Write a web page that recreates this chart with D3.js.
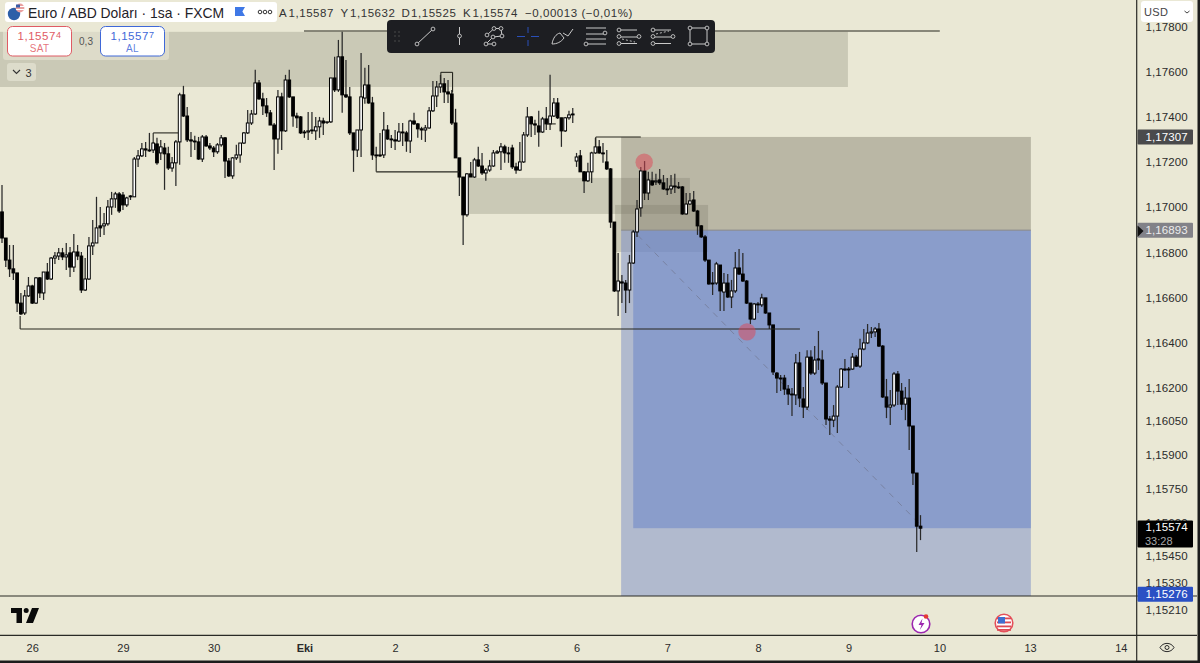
<!DOCTYPE html>
<html><head><meta charset="utf-8">
<style>html,body{margin:0;padding:0;background:#eae8d5;overflow:hidden}svg{display:block}</style>
<script src="https://cdn.jsdelivr.net/npm/d3@7"></script></head><body>
<svg id="c" width="1200" height="663"></svg>
<script>
const title="Euro / ABD Doları · 1sa · FXCM";
const ohlcLabels=[["A","1,15587"],["Y","1,15632"],["D","1,15525"],["K","1,15574"]];
const changeLabel="−0,00013 (−0,01%)";
const dayBars=[8,32,56,80,104,128,152,176,200,224,248,272,296];
const dayLabels=["26","29","30","Eki","2","3","6","7","8","9","10","13","14"];
const priceTicks=[1.178,1.176,1.174,1.172,1.170,1.168,1.166,1.164,1.162,1.1605,1.159,1.1575,1.156,1.1545,1.1533,1.1521];
const priceTickLabels=["1,17800","1,17600","1,17400","1,17200","1,17000","1,16800","1,16600","1,16400","1,16200","1,16050","1,15900","1,15750","1,15600","1,15450","1,15330","1,15210"];
const opens=[1.16974,1.16858,1.1676,1.16721,1.16703,1.16569,1.16525,1.16601,1.16645,1.16569,
1.16681,1.16614,1.16707,1.16676,1.16769,1.16778,1.16792,1.16774,1.16792,1.16729,
1.16796,1.16778,1.16627,1.16676,1.16823,1.16836,1.16912,1.16912,1.16921,1.16996,
1.17032,1.17054,1.17049,1.17005,1.17041,1.17041,1.17209,1.17223,1.17254,1.17249,
1.17249,1.17276,1.17236,1.17258,1.17232,1.17169,1.17192,1.17285,1.17494,1.174,
1.17294,1.17289,1.17285,1.17209,1.17307,1.17267,1.17258,1.17241,1.17272,1.17303,
1.172,1.17134,1.17214,1.17227,1.1728,1.17325,1.17369,1.17409,1.17547,1.17476,
1.17445,1.17414,1.1736,1.17298,1.17485,1.17334,1.1756,1.17485,1.174,1.17396,
1.17325,1.17329,1.17334,1.17334,1.17352,1.17378,1.17374,1.17374,1.17569,1.17516,
1.17663,1.17494,1.17485,1.17325,1.17249,1.17338,1.1748,1.17538,1.17458,1.17227,
1.17223,1.17227,1.17338,1.17298,1.17294,1.17289,1.17329,1.17325,1.17289,1.17378,
1.17365,1.17343,1.17338,1.17347,1.17423,1.17489,1.17529,1.17543,1.17507,1.17498,
1.17369,1.17214,1.17129,1.16961,1.17143,1.17129,1.17205,1.17178,1.17147,1.1716,
1.17178,1.17236,1.17241,1.17263,1.17236,1.17258,1.17174,1.1716,1.17196,1.17316,
1.17396,1.17365,1.17356,1.17329,1.17387,1.17365,1.174,1.17458,1.17392,1.17334,
1.17392,1.17405,1.172,1.17223,1.17152,1.17112,1.17152,1.17236,1.17263,1.17236,
1.17196,1.17165,1.16929,1.16623,1.16663,1.16658,1.16627,1.16747,1.16885,1.16992,
1.17156,1.17058,1.17112,1.17107,1.17116,1.17103,1.17076,1.17076,1.17089,1.17085,
1.17085,1.16965,1.17009,1.17027,1.16978,1.16912,1.16863,1.1676,1.16654,1.16658,
1.16738,1.16618,1.16658,1.16596,1.16623,1.16725,1.16698,1.16667,1.16569,1.16498,
1.16561,1.16561,1.16592,1.16525,1.16472,1.16258,1.16236,1.16236,1.16187,1.16165,
1.16161,1.16303,1.16143,1.16107,1.16329,1.16258,1.16321,1.16316,1.16214,1.16054,
1.16049,1.16067,1.16196,1.16276,1.16276,1.16276,1.16329,1.16289,1.16365,1.16392,
1.16436,1.16441,1.16454,1.16378,1.16152,1.16107,1.16116,1.16254,1.16178,1.1612,
1.16147,1.16023,1.15814,1.15578];
const highs=[1.17094,1.16858,1.16827,1.16827,1.16703,1.16614,1.16627,1.16685,1.1665,1.16685,
1.16685,1.16707,1.16747,1.16774,1.16796,1.16814,1.16814,1.16836,1.16818,1.16876,
1.16827,1.16796,1.16769,1.16863,1.16938,1.17041,1.16996,1.16969,1.17027,1.17063,
1.17063,1.17063,1.17063,1.17041,1.17049,1.17218,1.17249,1.1728,1.17285,1.17325,
1.17285,1.17303,1.17294,1.1728,1.17263,1.17218,1.17294,1.17503,1.17534,1.1744,
1.17329,1.17312,1.17307,1.17316,1.17316,1.1728,1.17267,1.1728,1.17316,1.17307,
1.17214,1.17218,1.17272,1.1728,1.17329,1.17427,1.17427,1.17605,1.1756,1.17503,
1.1748,1.17427,1.17369,1.17516,1.17503,1.17583,1.17605,1.17485,1.17414,1.174,
1.17338,1.17418,1.17418,1.17396,1.17396,1.17392,1.17374,1.17569,1.17663,1.17738,
1.17774,1.17649,1.17529,1.17325,1.17338,1.1768,1.17614,1.17627,1.17485,1.17263,
1.17325,1.17418,1.1736,1.17316,1.17338,1.17369,1.17369,1.17334,1.17383,1.17414,
1.17369,1.17352,1.1736,1.1744,1.17556,1.17556,1.17583,1.17569,1.1756,1.17516,
1.17432,1.17214,1.17129,1.17147,1.17196,1.17214,1.17263,1.17236,1.17169,1.17205,
1.17249,1.17249,1.1728,1.17272,1.17263,1.17272,1.17192,1.17285,1.17329,1.1744,
1.174,1.17383,1.17423,1.17396,1.1744,1.17583,1.1748,1.1748,1.17392,1.17396,
1.17423,1.17436,1.17236,1.17249,1.17156,1.17192,1.17241,1.17303,1.17294,1.1728,
1.17249,1.17169,1.16929,1.16792,1.16694,1.16672,1.16783,1.16894,1.17027,1.17174,
1.172,1.17152,1.17152,1.17143,1.17165,1.17138,1.17125,1.17138,1.17143,1.17107,
1.17089,1.17058,1.17058,1.17067,1.16983,1.16916,1.16872,1.1676,1.16707,1.16752,
1.16738,1.16703,1.16698,1.16672,1.16796,1.16809,1.16792,1.16672,1.16569,1.16569,
1.16574,1.1661,1.16592,1.16525,1.16472,1.16263,1.1625,1.1625,1.16205,1.16192,
1.16343,1.16352,1.16196,1.1636,1.1636,1.16378,1.16445,1.1636,1.16214,1.16067,
1.16116,1.16205,1.16281,1.16321,1.16285,1.16347,1.16338,1.1641,1.16454,1.16476,
1.16463,1.16463,1.16481,1.16383,1.16232,1.16183,1.16263,1.16267,1.16214,1.16196,
1.16232,1.16023,1.15814,1.15627];
const lows=[1.16836,1.16729,1.16685,1.16672,1.16529,1.16516,1.16516,1.16596,1.16565,1.16565,
1.16592,1.16583,1.16672,1.16672,1.16743,1.1676,1.1676,1.16716,1.16685,1.16707,
1.1676,1.16614,1.16623,1.16672,1.16783,1.16836,1.16863,1.16872,1.16912,1.16961,
1.16992,1.16969,1.16983,1.16996,1.17027,1.17041,1.17174,1.17218,1.17218,1.17241,
1.17236,1.17183,1.17205,1.17072,1.1716,1.17152,1.17089,1.17183,1.17396,1.17285,
1.17218,1.17249,1.17205,1.17196,1.17263,1.17249,1.17218,1.17232,1.17263,1.17125,
1.17129,1.17121,1.17205,1.17192,1.17276,1.1732,1.1736,1.17405,1.17472,1.17405,
1.17396,1.1736,1.1716,1.17232,1.17249,1.17329,1.1748,1.17352,1.17347,1.1732,
1.17303,1.17294,1.1732,1.17294,1.17303,1.17316,1.17365,1.17369,1.17507,1.17507,
1.17414,1.1748,1.17316,1.17152,1.17218,1.17218,1.17454,1.17454,1.17205,1.17214,
1.17218,1.17214,1.17294,1.17258,1.17249,1.17285,1.17267,1.17241,1.17236,1.1736,
1.17303,1.17294,1.17285,1.17343,1.17418,1.1744,1.17503,1.17458,1.17458,1.1736,
1.17214,1.17045,1.16827,1.16952,1.17129,1.17125,1.17174,1.17138,1.17112,1.17152,
1.17174,1.17232,1.1716,1.17192,1.17192,1.17165,1.17143,1.17156,1.17192,1.17307,
1.17307,1.17316,1.17263,1.17325,1.17338,1.17338,1.17396,1.17387,1.17263,1.17329,
1.17383,1.17369,1.17174,1.17152,1.17058,1.17107,1.17103,1.17232,1.17232,1.17192,
1.1716,1.16903,1.16618,1.16512,1.16569,1.16525,1.16569,1.16743,1.16863,1.16952,
1.17027,1.17027,1.17089,1.17094,1.17094,1.17072,1.17049,1.17054,1.17058,1.17076,
1.16961,1.16961,1.17005,1.16974,1.16872,1.16858,1.16752,1.1665,1.16605,1.1665,
1.16534,1.16534,1.16592,1.16547,1.16614,1.16694,1.16663,1.16565,1.16476,1.16494,
1.16525,1.16552,1.16521,1.16454,1.1625,1.1617,1.16178,1.16161,1.16116,1.16067,
1.16116,1.16107,1.16058,1.16094,1.1625,1.1625,1.16272,1.16205,1.16027,1.15983,
1.16018,1.15992,1.16192,1.16267,1.16192,1.16272,1.16285,1.16281,1.1636,1.16387,
1.16414,1.16418,1.16374,1.16147,1.16058,1.16027,1.16107,1.16116,1.16094,1.16049,
1.15916,1.15761,1.15463,1.15516];
const closes=[1.16858,1.1676,1.16721,1.16703,1.16569,1.16521,1.16601,1.16645,1.16569,1.16681,
1.16614,1.16707,1.16676,1.16769,1.16778,1.16792,1.16774,1.16783,1.16729,1.16796,
1.16778,1.16627,1.16676,1.16823,1.16836,1.16903,1.16903,1.16921,1.16996,1.17032,
1.17054,1.16978,1.17005,1.17036,1.17045,1.17209,1.17223,1.17254,1.17249,1.17245,
1.1728,1.17192,1.17263,1.17232,1.17169,1.17192,1.17285,1.17494,1.174,1.17294,
1.17289,1.17285,1.17209,1.17307,1.17267,1.17258,1.17241,1.17272,1.17303,1.172,
1.17134,1.17214,1.17227,1.1728,1.17325,1.17369,1.17409,1.17547,1.17476,1.17445,
1.17414,1.1736,1.17298,1.17485,1.17334,1.1756,1.17485,1.174,1.17392,1.17325,
1.17329,1.17334,1.17338,1.17352,1.17378,1.17369,1.17374,1.17569,1.17516,1.17663,
1.17494,1.17485,1.17325,1.17249,1.17338,1.17485,1.17538,1.17458,1.17227,1.17223,
1.17227,1.17338,1.17298,1.17294,1.17289,1.17329,1.17325,1.17289,1.17378,1.17365,
1.17343,1.17338,1.17347,1.17423,1.17489,1.17529,1.17543,1.17507,1.17498,1.17369,
1.17214,1.17129,1.16961,1.17143,1.17129,1.17205,1.17178,1.17147,1.1716,1.17178,
1.17236,1.17241,1.17263,1.17236,1.17232,1.17174,1.1716,1.17196,1.17316,1.17396,
1.17365,1.1736,1.17329,1.17387,1.17365,1.174,1.17458,1.17392,1.17334,1.17392,
1.17405,1.17409,1.17218,1.17152,1.17112,1.17152,1.17236,1.17263,1.17236,1.17232,
1.17165,1.16929,1.16623,1.16667,1.16658,1.16627,1.16747,1.16885,1.16987,1.17156,
1.17058,1.17116,1.17094,1.17112,1.17103,1.17076,1.17072,1.17089,1.17085,1.17081,
1.16965,1.17009,1.17023,1.16978,1.16912,1.16863,1.1676,1.16654,1.16658,1.16743,
1.16623,1.16658,1.16596,1.16623,1.16725,1.16698,1.16667,1.16569,1.16498,1.16565,
1.16565,1.16592,1.16525,1.16472,1.16263,1.16236,1.16232,1.16187,1.16165,1.16161,
1.16303,1.16147,1.16107,1.16329,1.16258,1.16316,1.16316,1.16214,1.16054,1.16049,
1.16067,1.16196,1.16276,1.16272,1.16272,1.16329,1.16289,1.16365,1.16392,1.16436,
1.16441,1.16454,1.16378,1.16152,1.16107,1.16116,1.16254,1.16178,1.1612,1.16147,
1.16023,1.15814,1.15578,1.15569];
// drawing objects, in bar numbers and prices
const zoneBarsFrom=[-1,123,162.2], zoneBarsTo=[223.8,182,186.8];
const zonePriceTop=[1.17774,1.17125,1.17005], zonePriceBottom=[1.17529,1.16965,1.16796];
const stopPrice=1.17307, entryPrice=1.16893, targetPrice=1.15569, floorPrice=1.1525;
const posBarFrom=163.8, posInnerBarFrom=167, posBarTo=272.2;
const hLineFrom=[79.9,4.8,40,99,116.1,157.1,144.2];
const hLineTo=[248.1,211.1,46.6,120.9,119.2,169,146.5];
const hLinePrice=[1.17778,1.16454,1.17325,1.17152,1.17594,1.17307,1.17365];
const stemBar=[4.8,40,99,116.1,119.2,157.1];
const stemPriceA=[1.16454,1.17325,1.17152,1.17594,1.17594,1.17307];
const stemPriceB=[1.16512,1.1728,1.1722,1.17543,1.17505,1.17263];
const dashBars=[168.2,242.6], dashPrices=[1.16870,1.15590];
const markerBars=[169.9,197.1], markerPrices=[1.17195,1.16441];
const tagLabels=["1,17307","1,16893","1,15276"], tagPrices=[1.17307,1.16893,1.15276], tagFill=["#4a4a4c","#828288","#2a50c4"];
const lastLabel="1,15574", lastPrice=1.15574, countdown="33:28";

const BG="#eae8d5";
const svg=d3.select("#c");
const FONT="'Liberation Sans',Arial,sans-serif";
svg.append("rect").attr("width",1200).attr("height",663).attr("fill",BG);
const x=d3.scaleLinear().domain([0,243]).range([2,920.5]);
const y=d3.scaleLinear().domain([1.176,1.1521]).range([71,609]);
const bars=opens.map((o,i)=>({i,o,h:highs[i],l:lows[i],c:closes[i]}));

const plot=svg.append("g");
svg.append("clipPath").attr("id","pane").append("rect").attr("x",0).attr("y",0).attr("width",1137).attr("height",596);
plot.attr("clip-path","url(#pane)");
// zones
zoneBarsFrom.forEach((f,k)=>{plot.append("rect").attr("x",x(f)).attr("width",x(zoneBarsTo[k])-x(f)).attr("y",y(zonePriceTop[k])).attr("height",y(zonePriceBottom[k])-y(zonePriceTop[k])).attr("fill","rgb(120,120,100)").attr("fill-opacity",.27);});
// position
plot.append("rect").attr("x",x(posBarFrom)).attr("width",x(posBarTo)-x(posBarFrom)).attr("y",y(stopPrice)).attr("height",y(entryPrice)-y(stopPrice)).attr("fill","rgb(120,115,100)").attr("fill-opacity",.42);
plot.append("rect").attr("x",x(posBarFrom)).attr("width",x(posBarTo)-x(posBarFrom)).attr("y",y(entryPrice)).attr("height",y(floorPrice)-y(entryPrice)).attr("fill","rgb(120,140,200)").attr("fill-opacity",.5);
plot.append("rect").attr("x",x(posInnerBarFrom)).attr("width",x(posBarTo)-x(posInnerBarFrom)).attr("y",y(entryPrice)).attr("height",y(targetPrice)-y(entryPrice)).attr("fill","rgb(100,127,200)").attr("fill-opacity",.5);
plot.append("line").attr("x1",x(posBarFrom)).attr("x2",x(posBarTo)).attr("y1",y(entryPrice)).attr("y2",y(entryPrice)).attr("stroke","#8a8a8a").attr("stroke-width",1);
// dashed projection
plot.append("path").attr("d",d3.line().x(d=>x(d[0])).y(d=>y(d[1]))(dashBars.map((b,k)=>[b,dashPrices[k]]))).attr("fill","none").attr("stroke","#7882a2").attr("stroke-width",1).attr("stroke-dasharray","6 6");
// candles
const cg=plot.append("g");
cg.selectAll("line").data(bars).join("line").attr("x1",d=>x(d.i)).attr("x2",d=>x(d.i)).attr("y1",d=>y(d.h)).attr("y2",d=>y(d.l)).attr("stroke","#2a2a2a").attr("stroke-width",1.25);
cg.selectAll("rect").data(bars).join("rect").attr("x",d=>x(d.i)-1.35).attr("width",2.7)
 .attr("y",d=>y(Math.max(d.o,d.c))).attr("height",d=>Math.max(0.5,Math.abs(y(d.o)-y(d.c))))
 .attr("fill",d=>d.c>=d.o?"#fff":"#000").attr("stroke","#000").attr("stroke-width",1);
// horizontal drawings
hLineFrom.forEach((f,k)=>{plot.append("line").attr("x1",x(f)).attr("x2",x(hLineTo[k])).attr("y1",y(hLinePrice[k])).attr("y2",y(hLinePrice[k])).attr("stroke","#26261f").attr("stroke-width",1.1);});
stemBar.forEach((b,k)=>{plot.append("line").attr("x1",x(b)).attr("x2",x(b)).attr("y1",y(stemPriceA[k])).attr("y2",y(stemPriceB[k])).attr("stroke","#26261f").attr("stroke-width",1.1);});
// markers
markerBars.forEach((b,k)=>{plot.append("circle").attr("cx",x(b)).attr("cy",y(markerPrices[k])).attr("r",8.7).attr("fill","rgb(222,70,85)").attr("fill-opacity",.5);});

// axis panes
svg.append("rect").attr("x",1137).attr("y",0).attr("width",63).attr("height",663).attr("fill",BG);
svg.append("rect").attr("x",0).attr("y",596).attr("width",1137).attr("height",67).attr("fill",BG);
const dark="#2a2a26";
[[1136.7,0,1136.7,663],[0,596,1197,596],[0,635.3,1197,635.3]].forEach(l=>svg.append("line").attr("x1",l[0]).attr("y1",l[1]).attr("x2",l[2]).attr("y2",l[3]).attr("stroke",dark).attr("stroke-width",1.2));
svg.append("rect").attr("x",0).attr("y",660.5).attr("width",1200).attr("height",2.5).attr("fill","#1c1c1c");
svg.append("rect").attr("x",1197.5).attr("y",0).attr("width",2.5).attr("height",663).attr("fill","#1c1c1c");

// price axis
const yAxis=d3.axisRight(y).tickValues(priceTicks).tickSize(0).tickPadding(0).tickFormat((d,i)=>priceTickLabels[i]);
const ya=svg.append("g").attr("transform","translate(1145.5,1)").call(yAxis);
ya.select(".domain").remove();
ya.selectAll("text").attr("font-family",FONT).attr("font-size",11.5).attr("fill","#2b2b2b").attr("dy","0.34em").attr("letter-spacing",.1);
// time axis
const xAxis=d3.axisBottom(x).tickValues(dayBars).tickSize(0).tickPadding(0).tickFormat((d,i)=>dayLabels[i]);
const xa=svg.append("g").attr("transform","translate(0,644)").call(xAxis);
xa.select(".domain").remove();
xa.selectAll("text").attr("font-family",FONT).attr("font-size",11).attr("fill","#2b2b2b").attr("dy","0.71em").attr("font-weight",(d,i)=>dayLabels[i]==="Eki"?"700":"400");

// price tags
tagLabels.forEach((t,k)=>{const yy=y(tagPrices[k]);
 svg.append("rect").attr("x",1137.5).attr("y",yy-7.5).attr("width",55.5).attr("height",15).attr("rx",1).attr("fill",tagFill[k]);
 svg.append("text").attr("x",1145.5).attr("y",yy).attr("dy","0.36em").attr("font-family",FONT).attr("font-size",11.5).attr("letter-spacing",.1).attr("fill",k==1?"#ececec":"#fff").text(t);});
svg.append("path").attr("d","M1137.5 225.5 L1143.5 231 L1137.5 237 Z").attr("fill","#111");
const ly=y(lastPrice);
svg.append("rect").attr("x",1137.5).attr("y",ly-6.5).attr("width",55.5).attr("height",27).attr("rx",1).attr("fill","#000");
svg.append("text").attr("x",1145.5).attr("y",ly).attr("dy","0.36em").attr("font-family",FONT).attr("font-size",11.5).attr("letter-spacing",.1).attr("fill","#fff").text(lastLabel);
svg.append("text").attr("x",1145).attr("y",ly+13.5).attr("dy","0.36em").attr("font-family",FONT).attr("font-size",11).attr("fill","#a9a9a9").text(countdown);
// USD box
svg.append("rect").attr("x",1141).attr("y",1).attr("width",52).attr("height",21).attr("rx",3).attr("fill","#fff");
svg.append("text").attr("x",1144).attr("y",16).attr("font-family",FONT).attr("font-size",11).attr("letter-spacing",.4).attr("fill","#444").text("USD");
svg.append("path").attr("d","M1184.5 11 L1187 13 L1189.5 11").attr("fill","none").attr("stroke","#444").attr("stroke-width",1);
// header
svg.append("rect").attr("x",5).attr("y",2).attr("width",272).attr("height",20).attr("rx",3).attr("fill","#fff");
svg.append("circle").attr("cx",14).attr("cy",14).attr("r",6.2).attr("fill","#2c5fa8");
svg.append("circle").attr("cx",20).attr("cy",8).attr("r",4.4).attr("fill","#e9a0a0");
svg.append("path").attr("d","M16 6.5 h8 M16 9.5 h8").attr("stroke","#fff").attr("stroke-width",1);
svg.append("path").attr("d","M16 4.5 h4 v3 h-4 z").attr("fill","#3a5fa8");
svg.append("text").attr("x",28).attr("y",17.5).attr("font-family",FONT).attr("font-size",13.9).attr("fill","#1f2228").text(title);
svg.append("path").attr("d","M235 7 h10 l-2.6 4.5 l2.6 4.5 h-10 z").attr("fill","#3f78e6");
[260,265,270].forEach(c=>svg.append("circle").attr("cx",c).attr("cy",12).attr("r",1.8).attr("fill","none").attr("stroke","#333").attr("stroke-width",1));
let ox=[279,340.5,401.5,463];
ohlcLabels.forEach((o,k)=>{svg.append("text").attr("x",ox[k]).attr("y",16.5).attr("font-family",FONT).attr("font-size",11.5).attr("letter-spacing",.4).attr("fill","#333").text(o[0]);
 svg.append("text").attr("x",ox[k]+9.5).attr("y",16.5).attr("font-family",FONT).attr("font-size",11.5).attr("letter-spacing",.55).attr("fill","#333").text(o[1]);});
svg.append("text").attr("x",525).attr("y",16.5).attr("font-family",FONT).attr("font-size",11.5).attr("letter-spacing",.55).attr("fill","#333").text(changeLabel);
// buy/sell
svg.append("rect").attr("x",3).attr("y",23).attr("width",166).attr("height",37).attr("rx",3).attr("fill",BG).attr("fill-opacity",.6);
function btn(xx,col,v1,v2,lab){svg.append("rect").attr("x",xx+.5).attr("y",26.5).attr("width",64).attr("height",29.5).attr("rx",5).attr("fill","#fff").attr("stroke",col).attr("stroke-width",1);
 const t=svg.append("text").attr("x",xx+32.5).attr("y",39.5).attr("text-anchor","middle").attr("font-family",FONT).attr("font-size",11.5).attr("letter-spacing",.55).attr("fill",col);
 t.append("tspan").text(v1);t.append("tspan").attr("font-size",9).attr("dy",-1.5).text(v2);
 svg.append("text").attr("x",xx+32.5).attr("y",52).attr("text-anchor","middle").attr("font-family",FONT).attr("font-size",10).attr("letter-spacing",.3).attr("fill",col).attr("fill-opacity",.85).text(lab);}
btn(7,"#df5b64","1,1557","4","SAT");btn(100,"#3f68d8","1,1557","7","AL");
svg.append("text").attr("x",86).attr("y",45).attr("text-anchor","middle").attr("font-family",FONT).attr("font-size",10).attr("fill","#555").text("0,3");
svg.append("rect").attr("x",7).attr("y",63).attr("width",29).attr("height",18).attr("rx",3).attr("fill","#dddccb");
svg.append("path").attr("d","M13 70 L16.5 73.5 L20 70").attr("fill","none").attr("stroke","#333").attr("stroke-width",1.1);
svg.append("text").attr("x",25.5).attr("y",77).attr("font-family",FONT).attr("font-size",11).attr("fill","#333").text("3");

// toolbar
const tb=svg.append("g");
tb.append("rect").attr("x",387).attr("y",20).attr("width",328).attr("height",33).attr("rx",4).attr("fill","#1d1e22");
const IC="#c9c9c9";
function node(g,a,b,col){g.append("circle").attr("cx",a).attr("cy",b).attr("r",1.9).attr("fill","#1d1e22").attr("stroke",col||IC).attr("stroke-width",.9);}
function seg(g,a,b,c,d,col,dash){const l=g.append("line").attr("x1",a).attr("y1",b).attr("x2",c).attr("y2",d).attr("stroke",col||IC).attr("stroke-width",1);if(dash)l.attr("stroke-dasharray",dash);}
[395,399].forEach(a=>[32,36,41].forEach(b=>tb.append("circle").attr("cx",a).attr("cy",b).attr("r",.7).attr("fill","#5a5a5a")));
seg(tb,417,44,433,29);node(tb,417,44);node(tb,433,29);
seg(tb,459.5,27,459.5,45);node(tb,459.5,36);
[[487,35],[494,28.5],[501,28.5],[502,36],[493,37],[486,44],[494,44]].forEach((p,i,a)=>{if(i<a.length-1)seg(tb,p[0],p[1],a[i+1][0],a[i+1][1]);});
[[487,35],[494,28.5],[501,28.5],[502,36],[493,37],[486,44],[494,44]].forEach(p=>node(tb,p[0],p[1]));
const B="#2a4fb8";
seg(tb,517,36.5,525,36.5,B);seg(tb,531,36.5,539,36.5,B);seg(tb,528,27,528,33,B);seg(tb,528,40,528,46,B);
tb.append("path").attr("d","M552 44 C553 38,556 34,560 33 L564 38 C561 42,557 44,552 44 Z M563 33 L568 36 L573 29").attr("fill","none").attr("stroke",IC).attr("stroke-width",1);
[[586,606,28],[586,606,34],[586,606,39],[586,606,44]].forEach((l,i)=>{seg(tb,l[0],l[2],l[1],l[2]);});node(tb,605,33);node(tb,586,44);
[0,1].forEach(i=>{const ox2=619+i*34;
 seg(tb,ox2,30,ox2+18,30);seg(tb,ox2,37,ox2+20,37);seg(tb,ox2,43.5,ox2+18,43.5);
 seg(tb,ox2+3,i?34:39,ox2+16,i?31:42,"#bbb","2 2");
 node(tb,ox2,30);node(tb,ox2+20,36.5);node(tb,ox2,43.5);node(tb,ox2,36.5);
});
tb.append("rect").attr("x",690).attr("y",28).attr("width",17).attr("height",16).attr("fill","none").attr("stroke",IC).attr("stroke-width",1);
[[690,28],[707,28],[690,44],[707,44]].forEach(p=>node(tb,p[0],p[1]));

// TV logo
svg.append("path").attr("d","M11 608 H22 V623 H16.5 V613 H11 Z M32 608 H39 L33 623 H26 Z").attr("fill","#0a0a0a");
svg.append("circle").attr("cx",26.2).attr("cy",610.5).attr("r",2.5).attr("fill","#0a0a0a");
// event icons
svg.append("circle").attr("cx",921).attr("cy",624).attr("r",8.8).attr("fill","#fff").attr("stroke","#9c27b0").attr("stroke-width",1.6);
svg.append("path").attr("d","M922.5 618.5 L918.5 625 H921.5 L919.8 630 L924.5 623 H921.5 Z").attr("fill","#9c27b0");
svg.append("circle").attr("cx",926).attr("cy",616.5).attr("r",2.3).attr("fill","#e53935");
svg.append("circle").attr("cx",1004).attr("cy",623).attr("r",8.8).attr("fill","#fff").attr("stroke","#e5505a").attr("stroke-width",1.6);
[617.5,621.5,625.5,629].forEach(v=>svg.append("rect").attr("x",997).attr("y",v).attr("width",14).attr("height",1.8).attr("fill","#dd4b55"));
svg.append("rect").attr("x",998).attr("y",617).attr("width",7).attr("height",6.5).attr("fill","#3f6fd0");
// settings/eye
svg.append("path").attr("d","M1160 647.5 C1163 642,1171 642,1174 647.5 C1171 653,1163 653,1160 647.5 Z").attr("fill","none").attr("stroke","#2b2b2b").attr("stroke-width",1);
svg.append("circle").attr("cx",1167).attr("cy",647.5).attr("r",2).attr("fill","none").attr("stroke","#2b2b2b").attr("stroke-width",1);
</script></body></html>
